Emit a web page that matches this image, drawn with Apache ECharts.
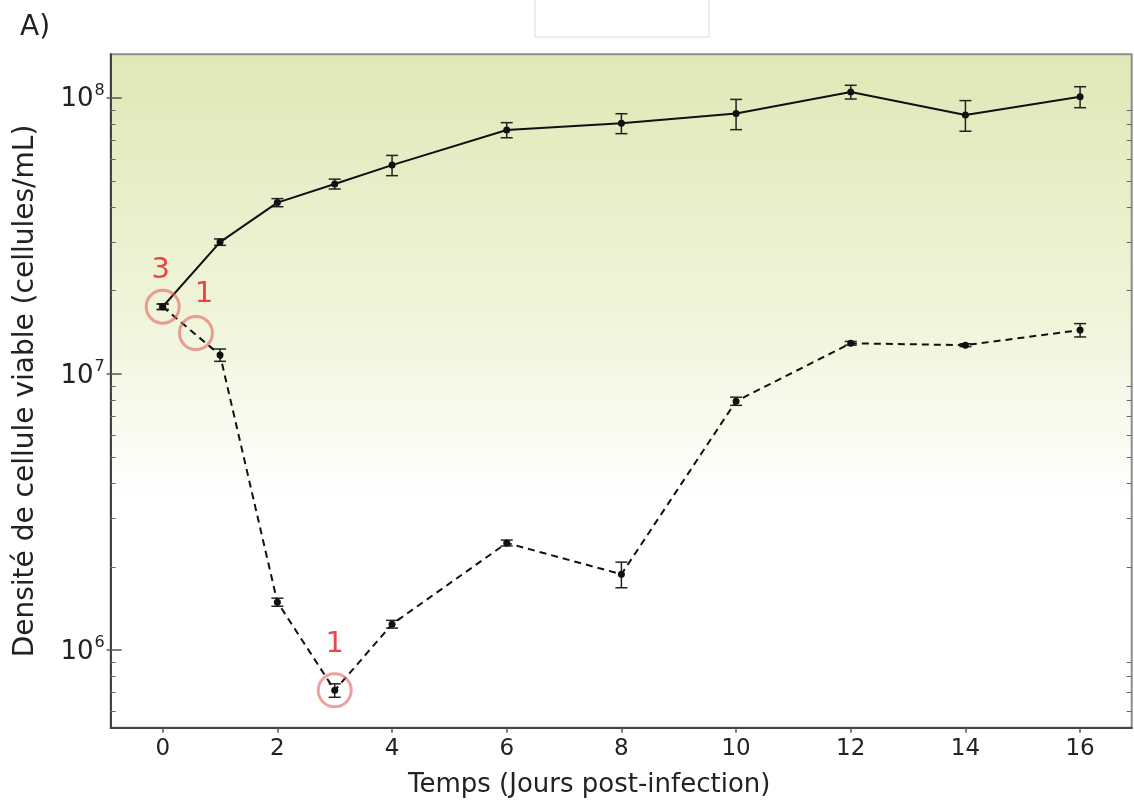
<!DOCTYPE html>
<html>
<head>
<meta charset="utf-8">
<script src="https://cdn.jsdelivr.net/npm/echarts@6/dist/echarts.min.js"></script>
<style>
  html, body { margin: 0; padding: 0; background: #fff; }
  #chart { width: 1134px; height: 807px; }
</style>
</head>
<body>
<div id="chart"></div>
<script>
// jours post-infection
const days = [0, 1, 2, 3, 4, 6, 8, 10, 12, 14, 16];
// témoin (trait plein)
const controlMean = [1.75e7, 3.0e7, 4.17e7, 4.87e7, 5.7e7, 7.64e7, 8.08e7, 8.76e7, 1.049e8, 8.66e7, 1.008e8];
const controlErr = [0.4e6, 0.8e6, 1.4e6, 2.0e6, 4.8e6, 4.8e6, 6.7e6, 1.1e7, 6.0e6, 1.1e7, 8.8e6];
// infecté (pointillés)
const infectedMean = [1.75e7, 1.17e7, 1.49e6, 7.14e5, 1.24e6, 2.44e6, 1.88e6, 7.96e6, 1.29e7, 1.27e7, 1.44e7];
const infectedErr = [0.4e6, 0.6e6, 0.05e6, 0.4e5, 0.4e5, 0.6e5, 0.2e6, 0.27e6, 0.2e6, 0.15e6, 0.8e6];
// cercles rouges
const circleX = [0, 0.58, 3];
const circleY = [1.75e7, 1.405e7, 7.14e5];
const circleLabels = ["3", "1", "1"];
// graduations
const xTicks = [0, 2, 4, 6, 8, 10, 12, 14, 16];
const yMajorTicks = [1e6, 1e7, 1e8];
const yMinorTicks = [6e5, 7e5, 8e5, 9e5,
  2e6, 3e6, 4e6, 5e6, 6e6, 7e6, 8e6, 9e6,
  2e7, 3e7, 4e7, 5e7, 6e7, 7e7, 8e7, 9e7];

const FONT = "DejaVu Sans";
const Y_MIN = 5.23e5, Y_MAX = 1.436e8;

let myChart = echarts.init(document.getElementById("chart"));

function errRows(mean, err) {
  return days.map((d, i) => [d, mean[i] - err[i], mean[i] + err[i]]);
}

function renderErr(params, api) {
  const x = api.value(0);
  const top = api.coord([x, api.value(2)]);
  const bot = api.coord([x, api.value(1)]);
  const w = 6;
  const style = { stroke: "#222", lineWidth: 1.5 };
  return {
    type: "group",
    children: [
      { type: "line", shape: { x1: top[0], y1: top[1], x2: bot[0], y2: bot[1] }, style: style },
      { type: "line", shape: { x1: top[0] - w, y1: top[1], x2: top[0] + w, y2: top[1] }, style: style },
      { type: "line", shape: { x1: bot[0] - w, y1: bot[1], x2: bot[0] + w, y2: bot[1] }, style: style },
    ],
  };
}

// position des étiquettes rouges autour des cercles
const labelCfg = [
  { distance: 4, offset: [-2, 0] },
  { distance: 6, offset: [8, 0] },
  { distance: 13, offset: [0, 0] },
];

const yBase = {
  type: "log",
  min: Y_MIN,
  max: Y_MAX,
  splitLine: { show: false },
  axisLine: { show: false, onZero: false },
  axisLabel: { show: false },
};

myChart.setOption({
  animation: false,
  backgroundColor: "#fff",
  textStyle: { fontFamily: FONT },
  graphic: [
    {
      type: "text",
      left: 20,
      top: 14,
      style: { text: "A)", fontSize: 28, fontFamily: FONT, fill: "#222" },
    },
    {
      type: "rect",
      shape: { x: 535, y: -2, width: 174, height: 39 },
      style: { fill: "none", stroke: "#dcdcdc", lineWidth: 1 },
    },
  ],
  grid: {
    left: 110.7,
    right: 2.3,
    top: 54.3,
    bottom: 79.3,
    show: true,
    borderColor: "#8c8c8c",
    borderWidth: 2,
    backgroundColor: new echarts.graphic.LinearGradient(0, 0, 0, 1, [
      { offset: 0, color: "#dfe8b6" },
      { offset: 0.4, color: "#f0f5db" },
      { offset: 0.66, color: "#ffffff" },
      { offset: 1, color: "#ffffff" },
    ]),
  },
  xAxis: {
    type: "value",
    min: -0.907,
    max: 16.9,
    name: "Temps (Jours post-infection)",
    nameLocation: "middle",
    nameGap: 45,
    nameTextStyle: { fontSize: 26, color: "#222", fontFamily: FONT, padding: [0, 64, 0, 0] },
    splitLine: { show: false },
    axisLine: { onZero: false, lineStyle: { color: "#444", width: 2 } },
    axisTick: { customValues: xTicks, length: 5, lineStyle: { color: "#555", width: 1.5 } },
    axisLabel: { customValues: xTicks, margin: 10, fontSize: 23, color: "#222", fontFamily: FONT },
  },
  yAxis: [
    {
      type: "log",
      min: Y_MIN,
      max: Y_MAX,
      name: "Densité de cellule viable (cellules/mL)",
      nameLocation: "middle",
      nameRotate: 90,
      nameGap: 71,
      nameTextStyle: { fontSize: 28, color: "#222", fontFamily: FONT },
      splitLine: { show: false },
      axisLine: { show: true, onZero: false, lineStyle: { color: "#444", width: 2 } },
      axisTick: { customValues: yMajorTicks, length: 4, lineStyle: { color: "#555", width: 1.5 } },
      axisLabel: {
        customValues: yMajorTicks,
        margin: 6,
        formatter: (v) => "{b|10}{s|" + Math.round(Math.log10(v)) + "}",
        rich: {
          b: { fontSize: 26, color: "#222", fontFamily: FONT, lineHeight: 30, verticalAlign: "bottom" },
          s: { fontSize: 16, color: "#222", fontFamily: FONT, lineHeight: 30, verticalAlign: "top", padding: [0, 0, 0, 1] },
        },
      },
    },
    Object.assign({}, yBase, {
      position: "left",
      axisTick: { show: true, inside: true, customValues: yMajorTicks, length: 11, lineStyle: { color: "#555", width: 1.5 } },
    }),
    Object.assign({}, yBase, {
      position: "left",
      axisTick: { show: true, inside: true, customValues: yMinorTicks, length: 5, lineStyle: { color: "#666", width: 1 } },
    }),
    Object.assign({}, yBase, {
      position: "right",
      axisTick: { show: true, inside: true, customValues: yMinorTicks, length: 5, lineStyle: { color: "#666", width: 1 } },
    }),
  ],
  series: [
    {
      name: "err-control",
      type: "custom",
      renderItem: renderErr,
      encode: { x: 0, y: [1, 2] },
      data: errRows(controlMean, controlErr),
      z: 3,
    },
    {
      name: "err-infected",
      type: "custom",
      renderItem: renderErr,
      encode: { x: 0, y: [1, 2] },
      data: errRows(infectedMean, infectedErr),
      z: 3,
    },
    {
      name: "control",
      type: "line",
      data: days.map((d, i) => [d, controlMean[i]]),
      symbol: "circle",
      symbolSize: 7,
      itemStyle: { color: "#111" },
      lineStyle: { color: "#111", width: 2 },
      z: 4,
    },
    {
      name: "infected",
      type: "line",
      data: days.map((d, i) => [d, infectedMean[i]]),
      symbol: "circle",
      symbolSize: 7,
      itemStyle: { color: "#111" },
      lineStyle: { color: "#111", width: 2, type: [7, 5] },
      z: 4,
    },
    {
      name: "circles",
      type: "scatter",
      symbol: "circle",
      symbolSize: 33,
      itemStyle: {
        color: "rgba(0,0,0,0)",
        borderColor: "rgba(228,96,96,0.75)",
        borderWidth: 3,
      },
      label: {
        show: true,
        position: "top",
        fontSize: 29,
        color: "#e8161b",
        fontFamily: FONT,
      },
      data: circleX.map((x, i) => ({
        value: [x, circleY[i]],
        label: Object.assign({ formatter: circleLabels[i] }, labelCfg[i]),
      })),
      z: 5,
    },
  ],
});
</script>
</body>
</html>
